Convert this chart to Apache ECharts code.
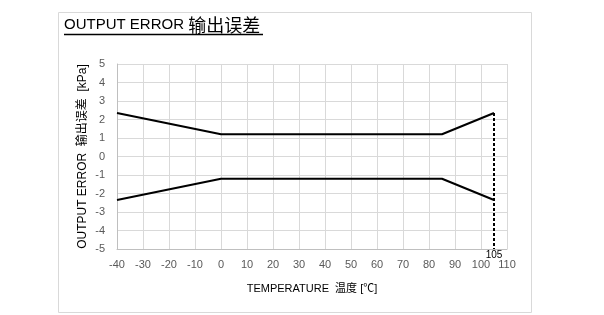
<!DOCTYPE html>
<html><head><meta charset="utf-8">
<script src="https://cdn.jsdelivr.net/npm/echarts@6/dist/echarts.min.js"></script>
<style>html,body{margin:0;padding:0;background:#fff}#c{width:604px;height:315px}</style>
</head><body><div id="c"></div>
<script>
const temps = [-40, 0, 85, 105];
const upperError = [2.35, 1.2, 1.2, 2.35];
const lowerError = [-2.35, -1.2, -1.2, -2.35];
const markTemp = [105, 105];
const markValues = [2.35, -5];
const markLabel = '105';
const xTicks = {min: -40, max: 110, interval: 10};
const yTicks = {min: -5, max: 5, interval: 1};

const FONT = "'Liberation Sans','Noto Sans CJK SC',sans-serif";
const chart = echarts.init(document.getElementById('c'));
const pair = (xs, ys) => xs.map((x, i) => [x, ys[i]]);
chart.setOption({
  animation: false,
  textStyle: {fontFamily: FONT},
  grid: {left: 117, right: 97, top: 64, bottom: 66},
  graphic: [
    {type: 'rect', shape: {x: 58.5, y: 12.5, width: 473, height: 300}, style: {fill: 'none', stroke: '#d9d9d9', lineWidth: 1}, silent: true, z: -1},
    {type: 'text', left: 64, top: 16, style: {
      text: '{a|OUTPUT ERROR }{b|输出误差}',
      rich: {
        a: {fontSize: 15, fontFamily: FONT, fill: '#000'},
        b: {fontSize: 18, fontFamily: "'Noto Sans CJK SC',sans-serif", fill: '#000'}
      }}},
    {type: 'line', shape: {x1: 64, y1: 34.5, x2: 263, y2: 34.5}, style: {stroke: '#000', lineWidth: 1.3}}
  ],
  xAxis: {
    type: 'value', min: xTicks.min, max: xTicks.max, interval: xTicks.interval,
    name: 'TEMPERATURE  温度 [℃]', nameLocation: 'middle', nameGap: 34, nameMoveOverlap: false,
    nameTextStyle: {fontSize: 11, color: '#000', fontFamily: FONT},
    axisLine: {onZero: false, lineStyle: {color: '#bfbfbf'}}, axisTick: {show: false},
    axisLabel: {fontSize: 11, color: '#595959', margin: 10},
    splitLine: {show: true, lineStyle: {color: '#d9d9d9'}}
  },
  yAxis: {
    type: 'value', min: yTicks.min, max: yTicks.max, interval: yTicks.interval,
    name: 'OUTPUT ERROR  输出误差  [kPa]', nameLocation: 'middle', nameGap: 28, nameRotate: 90, nameMoveOverlap: false,
    nameTextStyle: {fontSize: 12, color: '#000', fontFamily: FONT},
    axisLine: {show: true, onZero: false, lineStyle: {color: '#bfbfbf'}}, axisTick: {show: false},
    axisLabel: {fontSize: 11, color: '#595959', margin: 12},
    splitLine: {show: true, lineStyle: {color: '#d9d9d9'}}
  },
  series: [
    {type: 'line', data: pair(temps, upperError), symbol: 'none', lineStyle: {color: '#000', width: 2}},
    {type: 'line', data: pair(temps, lowerError), symbol: 'none', lineStyle: {color: '#000', width: 2}},
    {type: 'line', symbol: 'circle', symbolSize: 0.1, showSymbol: true, itemStyle: {color: '#000'},
      lineStyle: {color: '#000', width: 2, type: [3, 2]}, labelLayout: {hideOverlap: false},
      data: [
        {value: [markTemp[0], markValues[0]]},
        {value: [markTemp[1], markValues[1]], label: {show: true, position: 'bottom', distance: 1, formatter: markLabel, fontSize: 10, color: '#000'}}
      ]}
  ]
});
</script></body></html>
